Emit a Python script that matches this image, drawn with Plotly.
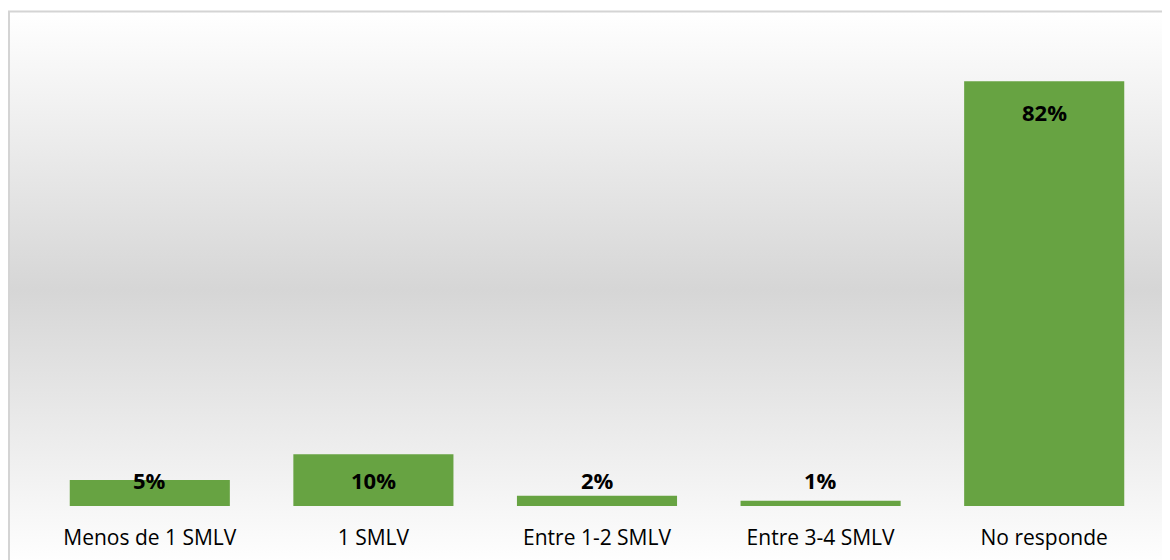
import base64
import plotly.graph_objects as go

categories = ["Menos de 1 SMLV", "1 SMLV", "Entre 1-2 SMLV", "Entre 3-4 SMLV", "No responde"]
values = [5, 10, 2, 1, 82]
labels = ["5%", "10%", "2%", "1%", "82%"]

# page body adds an 8px margin; the figure fills the rest of the window
W, H = 1162, 552
ml, mr, mt, mb = 30, 14, 22, 54
pw, ph = W - ml - mr, H - mt - mb

# chart area background: white -> grey -> white, with thin grey border
svg = f'''<svg xmlns="http://www.w3.org/2000/svg" width="{W}" height="{H}" viewBox="0 0 {W} {H}" preserveAspectRatio="none">
<defs><linearGradient id="g" x1="0" y1="0" x2="0" y2="1">
<stop offset="0" stop-color="#ffffff"/>
<stop offset="0.5" stop-color="#d6d6d6"/>
<stop offset="1" stop-color="#ffffff"/>
</linearGradient></defs>
<rect x="1" y="3.5" width="{W + 10}" height="{H + 4}" fill="url(#g)" stroke="#d4d4d4" stroke-width="2"/>
</svg>'''
bg = "data:image/svg+xml;base64," + base64.b64encode(svg.encode()).decode()

fig = go.Figure()
fig.add_trace(go.Bar(
    x=categories,
    y=values,
    marker=dict(color="#67a342", line=dict(width=0)),
    hoverinfo="none",
))

# data labels near the top of each bar, kept above the axis for small bars
for c, v, t in zip(categories, values, labels):
    fig.add_annotation(
        x=c, y=max(v - 6, 5.1), text=t, showarrow=False,
        yanchor="middle",
        font=dict(family="Open Sans", size=22, color="#000000", weight="bold"),
    )

fig.update_layout(
    width=W, height=H,
    margin=dict(l=ml, r=mr, t=mt, b=mb),
    paper_bgcolor="white",
    plot_bgcolor="rgba(0,0,0,0)",
    showlegend=False,
    bargap=0.284,
    images=[dict(
        source=bg, xref="paper", yref="paper",
        x=-ml / pw, y=(ph + mt) / ph, sizex=W / pw, sizey=H / ph,
        xanchor="left", yanchor="top", sizing="stretch", layer="below",
    )],
    font=dict(family="Open Sans", size=21, color="#000000"),
)
fig.update_xaxes(showgrid=False, showline=False, ticks="", tickfont=dict(size=21),
                 ticklabelstandoff=17, automargin=False)
fig.update_yaxes(range=[0, ph / 5.18], visible=False, showgrid=False, zeroline=False,
                 automargin=False)

fig.write_html("out.html")
